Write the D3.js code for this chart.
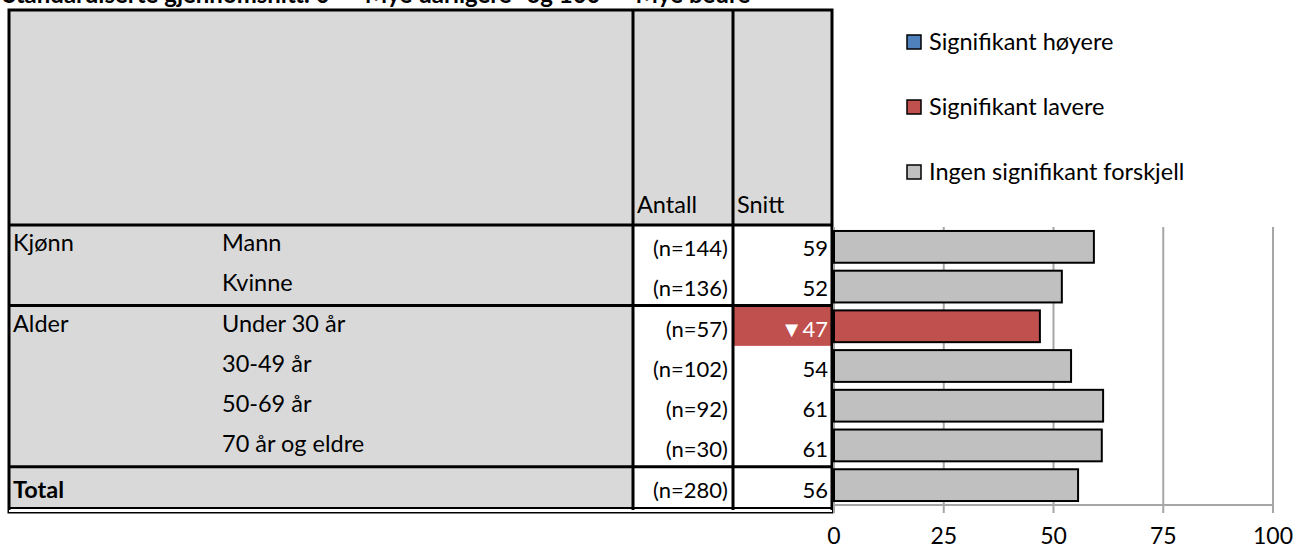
<!DOCTYPE html>
<html>
<head>
<meta charset="utf-8">
<script src="https://cdn.jsdelivr.net/npm/d3@7"></script>
<style>
  body { margin: 0; background: #fff; }
  svg { display: block; font-family: Lato, "Noto Sans", sans-serif; }
</style>
</head>
<body>
<svg id="chart" width="1297" height="551"></svg>
<script>
// data
const title = 'Standardiserte gjennomsnitt: 0 = "Mye dårligere" og 100 = "Mye bedre"';
const groups = ["Kjønn", "", "Alder", "", "", "", "Total"];
const categories = ["Mann", "Kvinne", "Under 30 år", "30-49 år", "50-69 år", "70 år og eldre", ""];
const counts = [144, 136, 57, 102, 92, 30, 280];
const means = [59.2, 51.9, 46.9, 54.0, 61.3, 61.0, 55.6];
const signif = ["none", "none", "lower", "none", "none", "none", "none"];
const groupBreaks = [2, 6];
const xTicks = [0, 25, 50, 75, 100];
const legendKeys = ["higher", "lower", "none"];
const legendLabels = ["Signifikant høyere", "Signifikant lavere", "Ingen signifikant forskjell"];

const colors = { higher: "#4f81bd", lower: "#c0504d", none: "#c0c0c0" };

const svg = d3.select("#chart");

// table geometry
const tLeft = 9, tRight = 832, tTop = 10, headBottom = 225, tBottom = 507;
const colAntall = 633, colSnitt = 733, subCol = 222;
const fs = 23.5, fsNum = 22;

const rowY = d3.scaleBand().domain(d3.range(categories.length)).range([headBottom, tBottom]);

// title (cut off at the top edge, as in the source image)
svg.append("text")
    .attr("x", 3).attr("y", 3)
    .attr("font-size", 24).attr("font-weight", "bold")
    .text(title);

// backgrounds
svg.append("rect")
    .attr("x", tLeft).attr("y", tTop)
    .attr("width", tRight - tLeft).attr("height", headBottom - tTop)
    .attr("fill", "#d9d9d9");
svg.append("rect")
    .attr("x", tLeft).attr("y", headBottom)
    .attr("width", colAntall - tLeft).attr("height", tBottom - headBottom)
    .attr("fill", "#d9d9d9");

const rows = svg.append("g").selectAll("g")
    .data(categories.map((c, i) => ({ i, c, g: groups[i], n: counts[i], m: means[i], s: signif[i] })))
    .join("g");

rows.filter(d => d.s === "lower").append("rect")
    .attr("x", colSnitt).attr("y", d => rowY(d.i))
    .attr("width", tRight - colSnitt).attr("height", rowY.bandwidth())
    .attr("fill", colors.lower);

rows.append("text")
    .attr("x", 13)
    .attr("y", d => rowY(d.i) + (d.g === "Total" ? 31 : 26))
    .attr("font-size", fs)
    .attr("font-weight", d => d.g === "Total" ? "bold" : null)
    .text(d => d.g);

rows.append("text")
    .attr("x", subCol)
    .attr("y", d => rowY(d.i) + 26)
    .attr("font-size", fs)
    .text(d => d.c);

rows.append("text")
    .attr("x", colAntall + 95)
    .attr("y", d => rowY(d.i) + 31)
    .attr("font-size", fsNum)
    .attr("text-anchor", "end")
    .text(d => "(n=" + d.n + ")");

rows.append("text")
    .attr("x", tRight - 4)
    .attr("y", d => rowY(d.i) + 31)
    .attr("font-size", fsNum)
    .attr("text-anchor", "end")
    .attr("fill", d => d.s === "lower" ? "#fff" : "#000")
    .text(d => (d.s === "lower" ? "▼" : d.s === "higher" ? "▲" : "") + Math.round(d.m));

// header labels
svg.append("text").attr("x", colAntall + 4).attr("y", headBottom - 12)
    .attr("font-size", fs).text("Antall");
svg.append("text").attr("x", colSnitt + 4).attr("y", headBottom - 12)
    .attr("font-size", fs).text("Snitt");

// table lines
const lines = svg.append("g").attr("stroke", "#000").attr("fill", "none");
lines.append("rect")
    .attr("x", tLeft).attr("y", tTop)
    .attr("width", tRight - tLeft).attr("height", tBottom + 5 - tTop)
    .attr("stroke-width", 3);
[colAntall, colSnitt].forEach(x => {
  lines.append("line").attr("x1", x).attr("x2", x)
      .attr("y1", tTop).attr("y2", tBottom + 5).attr("stroke-width", 3);
});
[headBottom, ...groupBreaks.map(i => rowY(i))].forEach(y => {
  lines.append("line").attr("x1", tLeft).attr("x2", tRight)
      .attr("y1", y).attr("y2", y).attr("stroke-width", 3);
});
lines.append("line").attr("x1", tLeft).attr("x2", tRight)
    .attr("y1", tBottom + 1).attr("y2", tBottom + 1).attr("stroke-width", 2);
lines.append("rect")
    .attr("x", tLeft).attr("y", tBottom + 3)
    .attr("width", tRight - tLeft).attr("height", 2)
    .attr("fill", "#fff").attr("stroke", "none");

// bar chart
const x = d3.scaleLinear().domain([0, 100]).range([834, 1273]);
const y = d3.scaleBand().domain(d3.range(categories.length))
    .range([227, 505]).paddingInner(0.2).paddingOuter(0.1);

const grid = svg.append("g").attr("stroke", "#a6a6a6").attr("stroke-width", 2);
grid.selectAll("line.v").data(xTicks).join("line")
    .attr("class", "v")
    .attr("x1", d => x(d)).attr("x2", d => x(d))
    .attr("y1", 227).attr("y2", 513);
grid.append("line")
    .attr("x1", x(0)).attr("x2", x(100))
    .attr("y1", 505).attr("y2", 505);

svg.append("g").selectAll("rect")
    .data(means)
    .join("rect")
    .attr("x", x(0))
    .attr("y", (d, i) => y(i))
    .attr("width", d => x(d) - x(0))
    .attr("height", y.bandwidth())
    .attr("fill", (d, i) => colors[signif[i]])
    .attr("stroke", "#000")
    .attr("stroke-width", 2);

svg.append("g").selectAll("text")
    .data(xTicks)
    .join("text")
    .attr("x", d => x(d)).attr("y", 544)
    .attr("text-anchor", "middle")
    .attr("font-size", 23)
    .text(d => d);

// legend
const leg = svg.append("g").selectAll("g")
    .data(legendKeys)
    .join("g")
    .attr("transform", (d, i) => `translate(907, ${35 + i * 65})`);
leg.append("rect")
    .attr("width", 14).attr("height", 14)
    .attr("fill", d => colors[d])
    .attr("stroke", "#000").attr("stroke-width", 1.5);
leg.append("text")
    .attr("x", 22).attr("y", 15)
    .attr("font-size", fs)
    .text((d, i) => legendLabels[i]);
</script>
</body>
</html>
